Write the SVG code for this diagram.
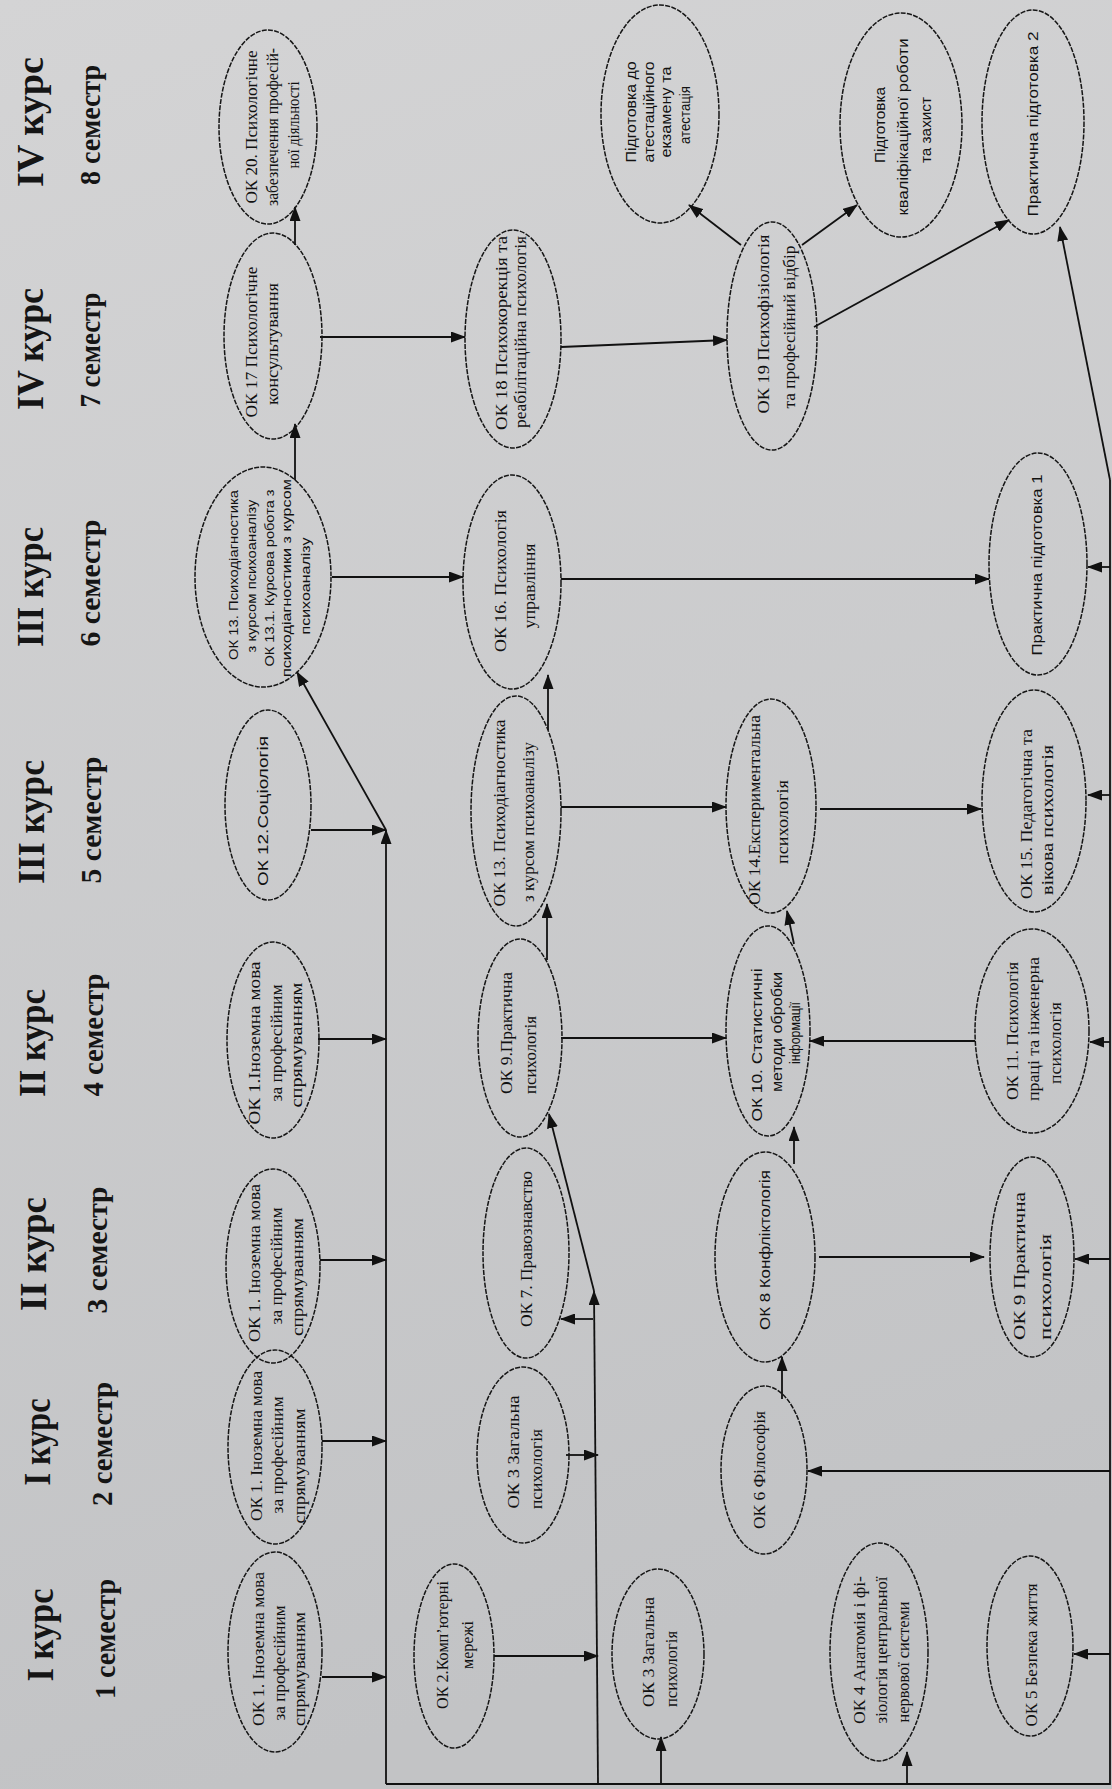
<svg xmlns="http://www.w3.org/2000/svg" width="1112" height="1789" viewBox="0 0 1112 1789">
<defs>
<linearGradient id="bg" x1="0" y1="0" x2="0.2" y2="1">
<stop offset="0" stop-color="#d4d4d5"/>
<stop offset="1" stop-color="#c2c3c5"/>
</linearGradient>
<marker id="ah" markerUnits="userSpaceOnUse" markerWidth="15" markerHeight="11" refX="14" refY="5.5" orient="auto">
<path d="M0,0 L15,5.5 L0,11 z" fill="#111"/>
</marker>
</defs>
<style>
.nd{fill:none;stroke:#151515;stroke-width:1.5;stroke-dasharray:5 1.3}
.s{font-family:"Liberation Serif","Times New Roman",serif;font-size:16px;fill:#111}
.a{font-family:"Liberation Sans",Arial,sans-serif;font-size:15px;fill:#111}
.a13{font-family:"Liberation Sans",Arial,sans-serif;font-size:12.5px;fill:#111}
.h{font-family:"Liberation Serif","Times New Roman",serif;font-weight:bold;fill:#151515}
.k{font-size:38px}
.m{font-size:30px}
.c line,.c polyline{stroke:#111;stroke-width:1.8;fill:none}
.ar{marker-end:url(#ah)}
text{text-anchor:middle}
</style>
<rect width="1112" height="1789" fill="url(#bg)"/>

<g id="headers">
<text class="h k" x="43" y="122" transform="rotate(-90 43 122)" textLength="130" lengthAdjust="spacingAndGlyphs">IV курс</text>
<text class="h m" x="100" y="125" transform="rotate(-90 100 125)" textLength="120" lengthAdjust="spacingAndGlyphs">8 семестр</text>
<text class="h k" x="43" y="349" transform="rotate(-90 43 349)" textLength="122" lengthAdjust="spacingAndGlyphs">IV курс</text>
<text class="h m" x="100" y="350" transform="rotate(-90 100 350)" textLength="115" lengthAdjust="spacingAndGlyphs">7 семестр</text>
<text class="h k" x="43" y="587" transform="rotate(-90 43 587)" textLength="120" lengthAdjust="spacingAndGlyphs">III курс</text>
<text class="h m" x="100" y="583" transform="rotate(-90 100 583)" textLength="127" lengthAdjust="spacingAndGlyphs">6 семестр</text>
<text class="h k" x="44" y="822" transform="rotate(-90 44 822)" textLength="124" lengthAdjust="spacingAndGlyphs">III курс</text>
<text class="h m" x="101" y="820" transform="rotate(-90 101 820)" textLength="127" lengthAdjust="spacingAndGlyphs">5 семестр</text>
<text class="h k" x="45" y="1043" transform="rotate(-90 45 1043)" textLength="108" lengthAdjust="spacingAndGlyphs">II курс</text>
<text class="h m" x="103" y="1035" transform="rotate(-90 103 1035)" textLength="123" lengthAdjust="spacingAndGlyphs">4 семестр</text>
<text class="h k" x="46" y="1254" transform="rotate(-90 46 1254)" textLength="114" lengthAdjust="spacingAndGlyphs">II курс</text>
<text class="h m" x="107" y="1250" transform="rotate(-90 107 1250)" textLength="127" lengthAdjust="spacingAndGlyphs">3 семестр</text>
<text class="h k" x="50" y="1442" transform="rotate(-90 50 1442)" textLength="87" lengthAdjust="spacingAndGlyphs">I курс</text>
<text class="h m" x="112" y="1444" transform="rotate(-90 112 1444)" textLength="124" lengthAdjust="spacingAndGlyphs">2 семестр</text>
<text class="h k" x="53" y="1635" transform="rotate(-90 53 1635)" textLength="93" lengthAdjust="spacingAndGlyphs">I  курс</text>
<text class="h m" x="115" y="1639" transform="rotate(-90 115 1639)" textLength="120" lengthAdjust="spacingAndGlyphs">1 семестр</text>
</g>

<g id="connectors" class="c">
<line class="ar" x1="295" y1="245" x2="295" y2="207"/>
<line class="ar" x1="295" y1="480" x2="295" y2="424"/>
<line class="ar" x1="320" y1="337" x2="465" y2="337"/>
<line class="ar" x1="561" y1="347" x2="727" y2="340"/>
<line class="ar" x1="741" y1="245" x2="689" y2="205"/>
<line class="ar" x1="802" y1="245" x2="857" y2="205"/>
<line class="ar" x1="814" y1="327" x2="1009" y2="220"/>
<line class="ar" x1="1110" y1="480" x2="1060" y2="227"/>
<line class="ar" x1="332" y1="577" x2="463" y2="577"/>
<line class="ar" x1="561" y1="579" x2="989" y2="579"/>
<line class="ar" x1="1110" y1="567" x2="1088" y2="567"/>
<line class="ar" x1="311" y1="830" x2="386" y2="830"/>
<line class="ar" x1="386" y1="830" x2="297" y2="672"/>
<line class="ar" x1="386" y1="1784" x2="386" y2="830"/>
<line class="ar" x1="548" y1="730" x2="548" y2="675"/>
<line class="ar" x1="561" y1="807" x2="726" y2="807"/>
<line class="ar" x1="820" y1="809" x2="981" y2="809"/>
<line class="ar" x1="1110" y1="795" x2="1088" y2="795"/>
<line class="ar" x1="547" y1="960" x2="547" y2="904"/>
<line class="ar" x1="561" y1="1038" x2="726" y2="1038"/>
<line class="ar" x1="794" y1="944" x2="787" y2="911"/>
<line class="ar" x1="975" y1="1041" x2="810" y2="1041"/>
<line class="ar" x1="1110" y1="1042" x2="1090" y2="1042"/>
<line class="ar" x1="794" y1="1164" x2="794" y2="1127"/>
<line class="ar" x1="819" y1="1257" x2="984" y2="1257"/>
<line class="ar" x1="1110" y1="1259" x2="1075" y2="1259"/>
<line class="ar" x1="782" y1="1399" x2="782" y2="1357"/>
<line class="ar" x1="1110" y1="1471" x2="808" y2="1471"/>
<line class="ar" x1="1110" y1="1654" x2="1074" y2="1654"/>
<line class="ar" x1="907" y1="1784" x2="907" y2="1752"/>
<line class="ar" x1="661" y1="1784" x2="661" y2="1737"/>
<line class="ar" x1="318" y1="1039" x2="386" y2="1039"/>
<line class="ar" x1="320" y1="1260" x2="386" y2="1260"/>
<line class="ar" x1="322" y1="1441" x2="386" y2="1441"/>
<line class="ar" x1="322" y1="1677" x2="386" y2="1677"/>
<line class="ar" x1="494" y1="1656" x2="598" y2="1656"/>
<line class="ar" x1="566" y1="1455" x2="598" y2="1455"/>
<line class="ar" x1="598" y1="1784" x2="594" y2="1291"/>
<line class="ar" x1="594" y1="1291" x2="549" y2="1114"/>
<line class="ar" x1="593" y1="1319" x2="561" y2="1319"/>
<polyline points="386,1784 1110,1784 1110,480"/>
</g>

<g id="ok20"><ellipse class="nd" cx="268" cy="127" rx="49" ry="97"/>
<text class="s" x="257" y="127" transform="rotate(-90 257 127)" textLength="153" lengthAdjust="spacingAndGlyphs">ОК 20. Психологічне</text>
<text class="s" x="278" y="127" transform="rotate(-90 278 127)" textLength="158" lengthAdjust="spacingAndGlyphs">забезпечення професій-</text>
<text class="s" x="299" y="125" transform="rotate(-90 299 125)" textLength="87" lengthAdjust="spacingAndGlyphs">ної діяльності</text></g>

<g id="ok17"><ellipse class="nd" cx="273" cy="336" rx="49" ry="103"/>
<text class="s" x="257" y="342" transform="rotate(-90 257 342)" textLength="151" lengthAdjust="spacingAndGlyphs">ОК 17 Психологічне</text>
<text class="s" x="278" y="344" transform="rotate(-90 278 344)" textLength="122" lengthAdjust="spacingAndGlyphs">консультування</text></g>

<g id="ok18"><ellipse class="nd" cx="513" cy="339" rx="48" ry="109"/>
<text class="s" x="507" y="333" transform="rotate(-90 507 333)" textLength="194" lengthAdjust="spacingAndGlyphs">ОК 18 Психокорекція та</text>
<text class="s" x="526" y="332" transform="rotate(-90 526 332)" textLength="192" lengthAdjust="spacingAndGlyphs">реабілітаційна психологія</text></g>

<g id="attestation"><ellipse class="nd" cx="660" cy="114" rx="59" ry="109"/>
<text class="a" x="636" y="112" transform="rotate(-90 636 112)" textLength="101" lengthAdjust="spacingAndGlyphs">Підготовка до</text>
<text class="a" x="654" y="112" transform="rotate(-90 654 112)" textLength="101" lengthAdjust="spacingAndGlyphs">атестаційного</text>
<text class="a" x="671" y="112" transform="rotate(-90 671 112)" textLength="91" lengthAdjust="spacingAndGlyphs">екзамену та</text>
<text class="a" x="690" y="115" transform="rotate(-90 690 115)" textLength="58" lengthAdjust="spacingAndGlyphs">атестація</text></g>

<g id="qualification"><ellipse class="nd" cx="901" cy="125" rx="61" ry="112"/>
<text class="a" x="885" y="125" transform="rotate(-90 885 125)" textLength="76" lengthAdjust="spacingAndGlyphs">Підготовка</text>
<text class="a" x="908" y="127" transform="rotate(-90 908 127)" textLength="177" lengthAdjust="spacingAndGlyphs">кваліфікаційної роботи</text>
<text class="a" x="931" y="130" transform="rotate(-90 931 130)" textLength="66" lengthAdjust="spacingAndGlyphs">та захист</text></g>

<g id="practice2"><ellipse class="nd" cx="1033" cy="122" rx="51" ry="112"/>
<text class="a" x="1038" y="124" transform="rotate(-90 1038 124)" textLength="185" lengthAdjust="spacingAndGlyphs">Практична підготовка 2</text></g>

<g id="ok19"><ellipse class="nd" cx="772" cy="336" rx="45" ry="114"/>
<text class="s" x="769" y="324" transform="rotate(-90 769 324)" textLength="179" lengthAdjust="spacingAndGlyphs">ОК 19 Психофізіологія</text>
<text class="s" x="795" y="327" transform="rotate(-90 795 327)" textLength="163" lengthAdjust="spacingAndGlyphs">та професійний відбір</text></g>

<g id="ok13-6"><ellipse class="nd" cx="263" cy="577" rx="68" ry="110"/>
<text class="a13" x="238" y="575" transform="rotate(-90 238 575)" textLength="170" lengthAdjust="spacingAndGlyphs">ОК 13. Психодіагностика</text>
<text class="a13" x="256" y="576" transform="rotate(-90 256 576)" textLength="153" lengthAdjust="spacingAndGlyphs">з курсом психоаналізу</text>
<text class="a13" x="274" y="578" transform="rotate(-90 274 578)" textLength="177" lengthAdjust="spacingAndGlyphs">ОК 13.1. Курсова робота з</text>
<text class="a13" x="291" y="578" transform="rotate(-90 291 578)" textLength="198" lengthAdjust="spacingAndGlyphs">психодіагностики з курсом</text>
<text class="a13" x="310" y="586" transform="rotate(-90 310 586)" textLength="97" lengthAdjust="spacingAndGlyphs">психоаналізу</text></g>

<g id="ok12"><ellipse class="nd" cx="268" cy="805" rx="43" ry="95"/>
<text class="a" x="268" y="811" transform="rotate(-90 268 811)" textLength="150" lengthAdjust="spacingAndGlyphs">ОК 12.Соціологія</text></g>

<g id="ok16"><ellipse class="nd" cx="512" cy="582" rx="49" ry="107"/>
<text class="s" x="506" y="581" transform="rotate(-90 506 581)" textLength="142" lengthAdjust="spacingAndGlyphs">ОК 16. Психологія</text>
<text class="s" x="535" y="586" transform="rotate(-90 535 586)" textLength="85" lengthAdjust="spacingAndGlyphs">управління</text></g>

<g id="ok13-5"><ellipse class="nd" cx="516" cy="811" rx="45" ry="115"/>
<text class="s" x="505" y="813" transform="rotate(-90 505 813)" textLength="187" lengthAdjust="spacingAndGlyphs">ОК 13. Психодіагностика</text>
<text class="s" x="534" y="822" transform="rotate(-90 534 822)" textLength="160" lengthAdjust="spacingAndGlyphs">з курсом психоаналізу</text></g>

<g id="practice1"><ellipse class="nd" cx="1038" cy="564" rx="49" ry="111"/>
<text class="a" x="1042" y="565" transform="rotate(-90 1042 565)" textLength="181" lengthAdjust="spacingAndGlyphs">Практична підготовка 1</text></g>

<g id="ok14"><ellipse class="nd" cx="771" cy="806" rx="45" ry="107"/>
<text class="s" x="760" y="810" transform="rotate(-90 760 810)" textLength="190" lengthAdjust="spacingAndGlyphs">ОК 14.Експериментальна</text>
<text class="s" x="788" y="822" transform="rotate(-90 788 822)" textLength="84" lengthAdjust="spacingAndGlyphs">психологія</text></g>

<g id="ok15"><ellipse class="nd" cx="1034" cy="801" rx="52" ry="111"/>
<text class="s" x="1032" y="814" transform="rotate(-90 1032 814)" textLength="170" lengthAdjust="spacingAndGlyphs">ОК 15. Педагогічна та</text>
<text class="s" x="1053" y="820" transform="rotate(-90 1053 820)" textLength="150" lengthAdjust="spacingAndGlyphs">вікова психологія</text></g>

<g id="ok1-4"><ellipse class="nd" cx="273" cy="1040" rx="46" ry="98"/>
<text class="s" x="260" y="1043" transform="rotate(-90 260 1043)" textLength="163" lengthAdjust="spacingAndGlyphs">ОК 1.Іноземна мова</text>
<text class="s" x="282" y="1043" transform="rotate(-90 282 1043)" textLength="117" lengthAdjust="spacingAndGlyphs">за професійним</text>
<text class="s" x="302" y="1045" transform="rotate(-90 302 1045)" textLength="125" lengthAdjust="spacingAndGlyphs">спрямуванням</text></g>

<g id="ok1-3"><ellipse class="nd" cx="273" cy="1266" rx="47" ry="97"/>
<text class="s" x="260" y="1263" transform="rotate(-90 260 1263)" textLength="158" lengthAdjust="spacingAndGlyphs">ОК 1. Іноземна мова</text>
<text class="s" x="282" y="1266" transform="rotate(-90 282 1266)" textLength="117" lengthAdjust="spacingAndGlyphs">за професійним</text>
<text class="s" x="303" y="1277" transform="rotate(-90 303 1277)" textLength="118" lengthAdjust="spacingAndGlyphs">спрямуванням</text></g>

<g id="ok9-4"><ellipse class="nd" cx="520" cy="1038" rx="42" ry="99"/>
<text class="s" x="512" y="1033" transform="rotate(-90 512 1033)" textLength="122" lengthAdjust="spacingAndGlyphs">ОК 9.Практична</text>
<text class="s" x="536" y="1055" transform="rotate(-90 536 1055)" textLength="78" lengthAdjust="spacingAndGlyphs">психологія</text></g>

<g id="ok7"><ellipse class="nd" cx="526" cy="1253" rx="43" ry="105"/>
<text class="s" x="532" y="1249" transform="rotate(-90 532 1249)" textLength="156" lengthAdjust="spacingAndGlyphs">ОК 7. Правознавство</text></g>

<g id="ok10"><ellipse class="nd" cx="768" cy="1031" rx="42" ry="105"/>
<text class="a" x="762" y="1045" transform="rotate(-90 762 1045)" textLength="153" lengthAdjust="spacingAndGlyphs">ОК 10. Статистичні</text>
<text class="a" x="782" y="1032" transform="rotate(-90 782 1032)" textLength="120" lengthAdjust="spacingAndGlyphs">методи обробки</text>
<text class="a" x="800" y="1033" transform="rotate(-90 800 1033)" textLength="62" lengthAdjust="spacingAndGlyphs">інформації</text></g>

<g id="ok11"><ellipse class="nd" cx="1032" cy="1031" rx="57" ry="102"/>
<text class="s" x="1018" y="1031" transform="rotate(-90 1018 1031)" textLength="138" lengthAdjust="spacingAndGlyphs">ОК 11. Психологія</text>
<text class="s" x="1039" y="1029" transform="rotate(-90 1039 1029)" textLength="144" lengthAdjust="spacingAndGlyphs">праці та інженерна</text>
<text class="s" x="1061" y="1043" transform="rotate(-90 1061 1043)" textLength="82" lengthAdjust="spacingAndGlyphs">психологія</text></g>

<g id="ok8"><ellipse class="nd" cx="765" cy="1257" rx="50" ry="105"/>
<text class="a" x="770" y="1250" transform="rotate(-90 770 1250)" textLength="160" lengthAdjust="spacingAndGlyphs">ОК 8 Конфліктологія</text></g>

<g id="ok9-3"><ellipse class="nd" cx="1032" cy="1257" rx="42" ry="100"/>
<text class="s" x="1025" y="1266" transform="rotate(-90 1025 1266)" textLength="148" lengthAdjust="spacingAndGlyphs">ОК 9 Практична</text>
<text class="s" x="1051" y="1287" transform="rotate(-90 1051 1287)" textLength="106" lengthAdjust="spacingAndGlyphs">психологія</text></g>

<g id="ok1-2"><ellipse class="nd" cx="275" cy="1447" rx="47" ry="97"/>
<text class="s" x="262" y="1446" transform="rotate(-90 262 1446)" textLength="150" lengthAdjust="spacingAndGlyphs">ОК 1. Іноземна мова</text>
<text class="s" x="283" y="1455" transform="rotate(-90 283 1455)" textLength="117" lengthAdjust="spacingAndGlyphs">за професійним</text>
<text class="s" x="305" y="1466" transform="rotate(-90 305 1466)" textLength="115" lengthAdjust="spacingAndGlyphs">спрямуванням</text></g>

<g id="ok1-1"><ellipse class="nd" cx="275" cy="1652" rx="47" ry="100"/>
<text class="s" x="264" y="1649" transform="rotate(-90 264 1649)" textLength="154" lengthAdjust="spacingAndGlyphs">ОК 1. Іноземна мова</text>
<text class="s" x="285" y="1663" transform="rotate(-90 285 1663)" textLength="115" lengthAdjust="spacingAndGlyphs">за професійним</text>
<text class="s" x="305" y="1669" transform="rotate(-90 305 1669)" textLength="114" lengthAdjust="spacingAndGlyphs">спрямуванням</text></g>

<g id="ok3-2"><ellipse class="nd" cx="523" cy="1455" rx="46" ry="88"/>
<text class="s" x="519" y="1452" transform="rotate(-90 519 1452)" textLength="113" lengthAdjust="spacingAndGlyphs">ОК 3  Загальна</text>
<text class="s" x="542" y="1469" transform="rotate(-90 542 1469)" textLength="80" lengthAdjust="spacingAndGlyphs">психологія</text></g>

<g id="ok2"><ellipse class="nd" cx="454" cy="1656" rx="40" ry="92"/>
<text class="s" x="448" y="1645" transform="rotate(-90 448 1645)" textLength="128" lengthAdjust="spacingAndGlyphs">ОК 2.Комп’ютерні</text>
<text class="s" x="473" y="1645" transform="rotate(-90 473 1645)" textLength="48" lengthAdjust="spacingAndGlyphs">мережі</text></g>

<g id="ok3-1"><ellipse class="nd" cx="658" cy="1654" rx="46" ry="85"/>
<text class="s" x="654" y="1652" transform="rotate(-90 654 1652)" textLength="110" lengthAdjust="spacingAndGlyphs">ОК 3  Загальна</text>
<text class="s" x="677" y="1669" transform="rotate(-90 677 1669)" textLength="76" lengthAdjust="spacingAndGlyphs">психологія</text></g>

<g id="ok6"><ellipse class="nd" cx="764" cy="1470" rx="43" ry="84"/>
<text class="s" x="765" y="1470" transform="rotate(-90 765 1470)" textLength="118" lengthAdjust="spacingAndGlyphs">ОК 6  Філософія</text></g>

<g id="ok4"><ellipse class="nd" cx="879" cy="1652" rx="49" ry="109"/>
<text class="s" x="865" y="1650" transform="rotate(-90 865 1650)" textLength="148" lengthAdjust="spacingAndGlyphs">ОК 4  Анатомія і фі-</text>
<text class="s" x="887" y="1650" transform="rotate(-90 887 1650)" textLength="147" lengthAdjust="spacingAndGlyphs">зіологія центральної</text>
<text class="s" x="909" y="1662" transform="rotate(-90 909 1662)" textLength="121" lengthAdjust="spacingAndGlyphs">нервової системи</text></g>

<g id="ok5"><ellipse class="nd" cx="1030" cy="1646" rx="43" ry="90"/>
<text class="s" x="1037" y="1655" transform="rotate(-90 1037 1655)" textLength="143" lengthAdjust="spacingAndGlyphs">ОК 5  Безпека життя</text></g>
</svg>
